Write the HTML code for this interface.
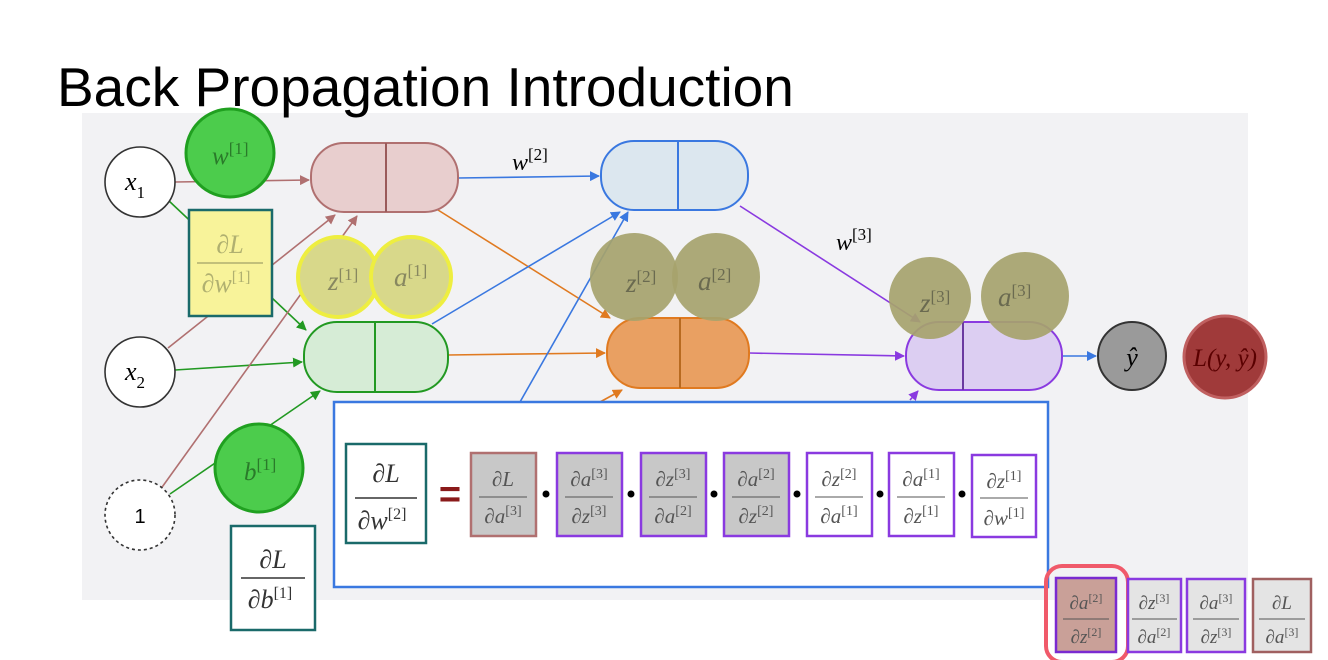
<!DOCTYPE html>
<html><head><meta charset="utf-8"><style>
html,body{margin:0;padding:0;background:#fff;width:1328px;height:660px;overflow:hidden}
svg{display:block}
.m{font-family:"Liberation Serif",serif;font-style:italic}
</style></head><body>
<svg width="1328" height="660" viewBox="0 0 1328 660" xmlns="http://www.w3.org/2000/svg">
<defs>
<marker id="rb" markerWidth="10" markerHeight="10" refX="9" refY="5" orient="auto" markerUnits="userSpaceOnUse"><path d="M0,0 L10,5 L0,10z" fill="#b07070"/></marker>
<marker id="gb" markerWidth="10" markerHeight="10" refX="9" refY="5" orient="auto" markerUnits="userSpaceOnUse"><path d="M0,0 L10,5 L0,10z" fill="#229922"/></marker>
<marker id="bb" markerWidth="10" markerHeight="10" refX="9" refY="5" orient="auto" markerUnits="userSpaceOnUse"><path d="M0,0 L10,5 L0,10z" fill="#3a78e0"/></marker>
<marker id="ob" markerWidth="10" markerHeight="10" refX="9" refY="5" orient="auto" markerUnits="userSpaceOnUse"><path d="M0,0 L10,5 L0,10z" fill="#e07a20"/></marker>
<marker id="pb" markerWidth="10" markerHeight="10" refX="9" refY="5" orient="auto" markerUnits="userSpaceOnUse"><path d="M0,0 L10,5 L0,10z" fill="#8a3ae0"/></marker>
</defs>
<rect x="82" y="113" width="1166" height="487" fill="#f2f2f4"/>
<text x="57" y="106" font-family="Liberation Sans,sans-serif" font-size="55" fill="#000">Back Propagation Introduction</text>

<g stroke-width="1.6" fill="none">
<line x1="175" y1="182" x2="309" y2="180" stroke="#b07070" marker-end="url(#rb)"/>
<line x1="168" y1="200" x2="306" y2="330" stroke="#229922" marker-end="url(#gb)"/>
<line x1="168" y1="348" x2="335" y2="215" stroke="#b07070" marker-end="url(#rb)"/>
<line x1="175" y1="370" x2="302" y2="362" stroke="#229922" marker-end="url(#gb)"/>
<line x1="160" y1="490" x2="357" y2="216" stroke="#b07070" marker-end="url(#rb)"/>
<line x1="170" y1="494" x2="320" y2="391" stroke="#229922" marker-end="url(#gb)"/>
<line x1="458" y1="178" x2="599" y2="176" stroke="#3a78e0" marker-end="url(#bb)"/>
<line x1="438" y1="210" x2="610" y2="318" stroke="#e07a20" marker-end="url(#ob)"/>
<line x1="432" y1="324" x2="620" y2="212" stroke="#3a78e0" marker-end="url(#bb)"/>
<line x1="448" y1="355" x2="605" y2="353" stroke="#e07a20" marker-end="url(#ob)"/>
<line x1="520" y1="402" x2="628" y2="212" stroke="#3a78e0" marker-end="url(#bb)"/>
<line x1="600" y1="402" x2="622" y2="390" stroke="#e07a20" marker-end="url(#ob)"/>
<line x1="740" y1="206" x2="920" y2="322" stroke="#8a3ae0" marker-end="url(#pb)"/>
<line x1="749" y1="353" x2="904" y2="356" stroke="#8a3ae0" marker-end="url(#pb)"/>
<line x1="910" y1="400" x2="918" y2="391" stroke="#8a3ae0" marker-end="url(#pb)"/>
<line x1="1062" y1="356" x2="1096" y2="356" stroke="#3a78e0" marker-end="url(#bb)"/>
</g>

<circle cx="140" cy="182" r="35" fill="#fff" stroke="#333" stroke-width="1.6"/>
<text x="125" y="190" class="m" font-size="26">x<tspan font-size="17" dy="8" font-style="normal">1</tspan></text>
<circle cx="140" cy="372" r="35" fill="#fff" stroke="#333" stroke-width="1.6"/>
<text x="125" y="380" class="m" font-size="26">x<tspan font-size="17" dy="8" font-style="normal">2</tspan></text>
<circle cx="140" cy="515" r="35" fill="#fff" stroke="#333" stroke-width="1.6" stroke-dasharray="3,3"/>
<text x="140" y="523" text-anchor="middle" font-family="Liberation Sans,sans-serif" font-size="20">1</text>

<g stroke-width="2">
<rect x="311" y="143" width="147" height="69" rx="33" fill="#e8cece" stroke="#b07070"/><line x1="386" y1="143" x2="386" y2="212" stroke="#9a5a5a"/>
<rect x="304" y="322" width="144" height="70" rx="33" fill="#d6ecd6" stroke="#229922"/><line x1="375" y1="322" x2="375" y2="392" stroke="#229922"/>
<rect x="601" y="141" width="147" height="69" rx="33" fill="#dce7ef" stroke="#3a78e0"/><line x1="678" y1="141" x2="678" y2="210" stroke="#3a78e0"/>
<rect x="607" y="318" width="142" height="70" rx="33" fill="#e9a062" stroke="#e07a20"/><line x1="680" y1="318" x2="680" y2="388" stroke="#b86a20"/>
<rect x="906" y="322" width="156" height="68" rx="33" fill="#dccef2" stroke="#8a3ae0"/><line x1="963" y1="322" x2="963" y2="390" stroke="#6a3aa0"/>
</g>
<text x="512" y="170" class="m" font-size="24">w<tspan font-size="17" dy="-10" font-style="normal">[2]</tspan></text>
<text x="836" y="250" class="m" font-size="24">w<tspan font-size="17" dy="-10" font-style="normal">[3]</tspan></text>

<circle cx="1132" cy="356" r="34" fill="#9a9a9a" stroke="#333" stroke-width="2"/>
<text x="1132" y="366" text-anchor="middle" class="m" font-size="26">ŷ</text>
<circle cx="1225" cy="357" r="41" fill="#a03a3a" stroke="#c06060" stroke-width="3"/>
<text x="1225" y="366" text-anchor="middle" class="m" font-size="25" fill="#5a0000">L(y, ŷ)</text>

<circle cx="230" cy="153" r="44" fill="#4ccc4c" stroke="#20a020" stroke-width="3"/>
<text x="212" y="164" class="m" font-size="25" fill="#2a7a2a">w<tspan font-size="17" dy="-10" font-style="normal">[1]</tspan></text>
<circle cx="259" cy="468" r="44" fill="#4ccc4c" stroke="#20a020" stroke-width="3"/>
<text x="244" y="480" class="m" font-size="25" fill="#2a7a2a">b<tspan font-size="17" dy="-10" font-style="normal">[1]</tspan></text>
<circle cx="338" cy="277" r="40" fill="#d8d88a" stroke="#eeee40" stroke-width="4"/>
<circle cx="411" cy="277" r="40" fill="#d8d88a" stroke="#eeee40" stroke-width="4"/>
<text x="328" y="290" class="m" font-size="27" fill="#888860">z<tspan font-size="17" dy="-10" font-style="normal">[1]</tspan></text>
<text x="394" y="286" class="m" font-size="27" fill="#888860">a<tspan font-size="17" dy="-10" font-style="normal">[1]</tspan></text>
<circle cx="634" cy="277" r="44" fill="#a6a36c" opacity="0.92"/>
<circle cx="716" cy="277" r="44" fill="#a6a36c" opacity="0.92"/>
<text x="626" y="292" class="m" font-size="27" fill="#6a6a50">z<tspan font-size="17" dy="-10" font-style="normal">[2]</tspan></text>
<text x="698" y="290" class="m" font-size="27" fill="#6a6a50">a<tspan font-size="17" dy="-10" font-style="normal">[2]</tspan></text>
<circle cx="930" cy="298" r="41" fill="#a6a36c" opacity="0.92"/>
<circle cx="1025" cy="296" r="44" fill="#a6a36c" opacity="0.92"/>
<text x="920" y="312" class="m" font-size="27" fill="#6a6a50">z<tspan font-size="17" dy="-10" font-style="normal">[3]</tspan></text>
<text x="998" y="306" class="m" font-size="27" fill="#6a6a50">a<tspan font-size="17" dy="-10" font-style="normal">[3]</tspan></text>

<rect x="189" y="210" width="83" height="106" fill="#f8f39a" stroke="#1a6a6a" stroke-width="2.5"/>
<text x="230" y="253" text-anchor="middle" class="m" font-size="26" fill="#b0b070">∂L</text>
<line x1="197" y1="263" x2="263" y2="263" stroke="#b0b070" stroke-width="1.5"/>
<text x="226" y="292" text-anchor="middle" class="m" font-size="26" fill="#b0b070">∂w<tspan font-size="16" dy="-10" font-style="normal">[1]</tspan></text>

<rect x="231" y="526" width="84" height="104" fill="#fff" stroke="#1a6a6a" stroke-width="2.5"/>
<text x="273" y="568" text-anchor="middle" class="m" font-size="26" fill="#333">∂L</text>
<line x1="241" y1="578" x2="305" y2="578" stroke="#333" stroke-width="1.5"/>
<text x="270" y="608" text-anchor="middle" class="m" font-size="26" fill="#333">∂b<tspan font-size="16" dy="-10" font-style="normal">[1]</tspan></text>

<rect x="334" y="402" width="714" height="185" fill="#fff" stroke="#3a78e0" stroke-width="2.5"/>
<rect x="346" y="444" width="80" height="99" fill="#fff" stroke="#1a6a6a" stroke-width="2.5"/>
<text x="386" y="482" text-anchor="middle" class="m" font-size="26" fill="#333">∂L</text>
<line x1="355" y1="498" x2="417" y2="498" stroke="#333" stroke-width="1.5"/>
<text x="382" y="529" text-anchor="middle" class="m" font-size="26" fill="#333">∂w<tspan font-size="16" dy="-10" font-style="normal">[2]</tspan></text>
<text x="450" y="507" text-anchor="middle" font-family="Liberation Sans,sans-serif" font-size="38" font-weight="bold" fill="#8a1a1a">=</text>

<g font-family="Liberation Serif,serif" font-style="italic" font-size="21" fill="#555" text-anchor="middle">
<rect x="471" y="453" width="65" height="83" fill="#c8c8c8" stroke="#b07070" stroke-width="2.5"/>
<text x="503" y="486">∂L</text><line x1="479" y1="497" x2="527" y2="497" stroke="#555"/><text x="503" y="523">∂a<tspan font-size="14" dy="-8" font-style="normal">[3]</tspan></text>
<rect x="557" y="453" width="65" height="83" fill="#c8c8c8" stroke="#8a3ae0" stroke-width="2.5"/>
<text x="589" y="486">∂a<tspan font-size="14" dy="-8" font-style="normal">[3]</tspan></text><line x1="565" y1="497" x2="613" y2="497" stroke="#555"/><text x="589" y="523">∂z<tspan font-size="14" dy="-8" font-style="normal">[3]</tspan></text>
<rect x="641" y="453" width="65" height="83" fill="#c8c8c8" stroke="#8a3ae0" stroke-width="2.5"/>
<text x="673" y="486">∂z<tspan font-size="14" dy="-8" font-style="normal">[3]</tspan></text><line x1="649" y1="497" x2="697" y2="497" stroke="#555"/><text x="673" y="523">∂a<tspan font-size="14" dy="-8" font-style="normal">[2]</tspan></text>
<rect x="724" y="453" width="65" height="83" fill="#c8c8c8" stroke="#8a3ae0" stroke-width="2.5"/>
<text x="756" y="486">∂a<tspan font-size="14" dy="-8" font-style="normal">[2]</tspan></text><line x1="732" y1="497" x2="780" y2="497" stroke="#555"/><text x="756" y="523">∂z<tspan font-size="14" dy="-8" font-style="normal">[2]</tspan></text>
<rect x="807" y="453" width="65" height="83" fill="#fff" stroke="#8a3ae0" stroke-width="2.5"/>
<text x="839" y="486">∂z<tspan font-size="14" dy="-8" font-style="normal">[2]</tspan></text><line x1="815" y1="497" x2="863" y2="497" stroke="#555"/><text x="839" y="523">∂a<tspan font-size="14" dy="-8" font-style="normal">[1]</tspan></text>
<rect x="889" y="453" width="65" height="83" fill="#fff" stroke="#8a3ae0" stroke-width="2.5"/>
<text x="921" y="486">∂a<tspan font-size="14" dy="-8" font-style="normal">[1]</tspan></text><line x1="897" y1="497" x2="945" y2="497" stroke="#555"/><text x="921" y="523">∂z<tspan font-size="14" dy="-8" font-style="normal">[1]</tspan></text>
<rect x="972" y="455" width="64" height="82" fill="#fff" stroke="#8a3ae0" stroke-width="2.5"/>
<text x="1004" y="488">∂z<tspan font-size="14" dy="-8" font-style="normal">[1]</tspan></text><line x1="980" y1="498" x2="1028" y2="498" stroke="#555"/><text x="1004" y="525">∂w<tspan font-size="14" dy="-8" font-style="normal">[1]</tspan></text>
</g>
<g fill="#000"><circle cx="546" cy="494" r="3.5"/><circle cx="631" cy="494" r="3.5"/><circle cx="714" cy="494" r="3.5"/><circle cx="797" cy="494" r="3.5"/><circle cx="880" cy="494" r="3.5"/><circle cx="962" cy="494" r="3.5"/></g>

<rect x="1046" y="566" width="82" height="96" rx="16" fill="none" stroke="#f05a6a" stroke-width="4"/>
<g font-family="Liberation Serif,serif" font-style="italic" font-size="19" fill="#555" text-anchor="middle">
<rect x="1056" y="578" width="60" height="74" fill="#c9a098" stroke="#7a2ad0" stroke-width="2.5"/>
<text x="1086" y="609">∂a<tspan font-size="12" dy="-7" font-style="normal">[2]</tspan></text><line x1="1063" y1="619" x2="1109" y2="619" stroke="#555"/><text x="1086" y="643">∂z<tspan font-size="12" dy="-7" font-style="normal">[2]</tspan></text>
<rect x="1128" y="579" width="53" height="73" fill="#e4e4e4" stroke="#8a3ae0" stroke-width="2.5"/>
<text x="1154" y="609">∂z<tspan font-size="12" dy="-7" font-style="normal">[3]</tspan></text><line x1="1132" y1="619" x2="1177" y2="619" stroke="#555"/><text x="1154" y="643">∂a<tspan font-size="12" dy="-7" font-style="normal">[2]</tspan></text>
<rect x="1187" y="579" width="58" height="73" fill="#e4e4e4" stroke="#8a3ae0" stroke-width="2.5"/>
<text x="1216" y="609">∂a<tspan font-size="12" dy="-7" font-style="normal">[3]</tspan></text><line x1="1193" y1="619" x2="1239" y2="619" stroke="#555"/><text x="1216" y="643">∂z<tspan font-size="12" dy="-7" font-style="normal">[3]</tspan></text>
<rect x="1253" y="579" width="58" height="73" fill="#e4e4e4" stroke="#a06060" stroke-width="2.5"/>
<text x="1282" y="609">∂L</text><line x1="1259" y1="619" x2="1305" y2="619" stroke="#555"/><text x="1282" y="643">∂a<tspan font-size="12" dy="-7" font-style="normal">[3]</tspan></text>
</g>
</svg>
</body></html>
